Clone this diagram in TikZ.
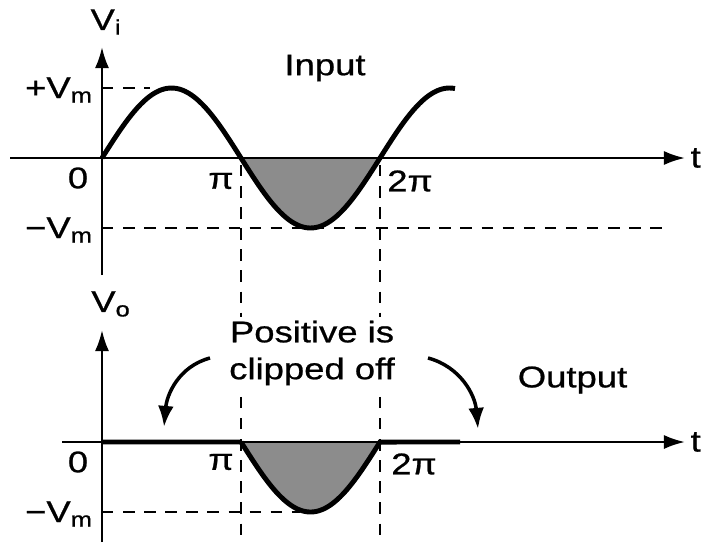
\documentclass[tikz,border=0pt]{standalone}
\usepackage{fontspec}
\setmainfont{Liberation Sans}[FakeStretch=1.22, FakeBold=0.8]
\usepackage{tikz}
\usetikzlibrary{arrows.meta, positioning}
\definecolor{wshade}{HTML}{8C8C8C}

\begin{document}
\begin{tikzpicture}[x=1cm, y=1cm,
  axisline/.style={line width=1.4pt, -{Latex[length=12pt, width=8pt]}},
  wave/.style={line width=2.8pt},
  guide/.style={line width=1.5pt, dash pattern=on 6.5pt off 5.5pt},
  lbl/.style={font=\fontsize{17}{20}\selectfont, inner sep=1pt},
  note/.style={font=\fontsize{17}{21}\selectfont, align=center, fill=white, inner sep=2pt},
  bendarrow/.style={line width=2pt, -{Latex[length=12pt, width=9pt]}}]

  \useasboundingbox (0,0) rectangle (14.18,10.84);

  %% Input axes
  \coordinate (vib) at (2.04,5.34);
  \coordinate (vit) at (2.04,9.9);
  \coordinate (tib) at (0.2,7.68);
  \coordinate (tit) at (13.7,7.68);
  \fill[wshade] plot[domain=pi:2*pi, samples=60] ({2.04+0.8849*\x},{7.68+1.4*sin(\x r)}) -- cycle;
  \draw[axisline] (vib) -- (vit);
  \draw[axisline] (tib) -- (tit);
  \node[lbl, right=2pt of tit] (tin) {t};
  \node[lbl] (vilbl) at (2.12,10.4) {V\textsubscript{i}};

  %% Guides
  \coordinate (pka) at (2.04,9.08);
  \coordinate (pkb) at (3.0,9.08);
  \coordinate (tra) at (2.04,6.28);
  \coordinate (trb) at (13.4,6.28);
  \coordinate (gpa) at (4.82,7.54);
  \coordinate (gpb) at (4.82,0);
  \coordinate (gqa) at (7.60,7.54);
  \coordinate (gqb) at (7.60,0);
  \draw[guide] (pka) -- (pkb);
  \draw[guide] (tra) -- (trb);
  \draw[guide] (gpa) -- (gpb);
  \draw[guide] (gqa) -- (gqb);

  %% Input wave
  \draw[wave] plot[domain=0:7.98, samples=120] ({2.04+0.8849*\x},{7.68+1.4*sin(\x r)});

  \node[lbl, anchor=east] (vmpos) at (1.9,9.04) {+V\textsubscript{m}};
  \node[lbl, anchor=east] (vmneg) at (1.9,6.24) {−V\textsubscript{m}};
  \node[lbl] (zeroi) at (1.56,7.28) {0};
  \node[lbl] (pii) at (4.42,7.22) {π};
  \node[lbl] (twopii) at (8.2,7.22) {2π};
  \node[lbl] (inlbl) at (6.5,9.48) {Input};

  %% Output axes
  \coordinate (vob) at (2.04,0);
  \coordinate (vot) at (2.04,4.24);
  \coordinate (tob) at (1.24,2.0);
  \coordinate (tot) at (13.7,2.0);
  \fill[wshade] plot[domain=pi:2*pi, samples=60] ({2.04+0.8849*\x},{2.0+1.4*sin(\x r)}) -- cycle;
  \draw[axisline] (vob) -- (vot);
  \draw[axisline] (tob) -- (tot);
  \node[lbl, right=2pt of tot] (ton) {t};
  \node[lbl] (volbl) at (2.22,4.76) {V\textsubscript{o}};

  \coordinate (toa) at (2.04,0.6);
  \coordinate (tob2) at (6.0,0.6);
  \draw[guide] (toa) -- (tob2);

  %% Output wave
  \draw[wave] (2.04,2.0) -- (4.82,2.0)
    -- plot[domain=pi:2*pi, samples=60] ({2.04+0.8849*\x},{2.0+1.4*sin(\x r)})
    -- (9.2,2.0);

  \node[lbl, anchor=east] (vmnego) at (1.9,0.56) {−V\textsubscript{m}};
  \node[lbl] (zeroo) at (1.56,1.6) {0};
  \node[lbl] (pio) at (4.42,1.6) {π};
  \node[lbl] (twopio) at (8.28,1.56) {2π};
  \node[lbl] (outlbl) at (11.45,3.24) {Output};

  %% Clipping note
  \node[note] (clip) at (6.24,3.78) {Positive is\\clipped off};
  \coordinate (cla) at (4.2,3.68);
  \coordinate (clb) at (3.28,2.3);
  \coordinate (cra) at (8.56,3.68);
  \coordinate (crb) at (9.56,2.26);
  \draw[bendarrow] (cla) to[out=195, in=85] (clb);
  \draw[bendarrow] (cra) to[out=-15, in=95] (crb);

\end{tikzpicture}
\end{document}
